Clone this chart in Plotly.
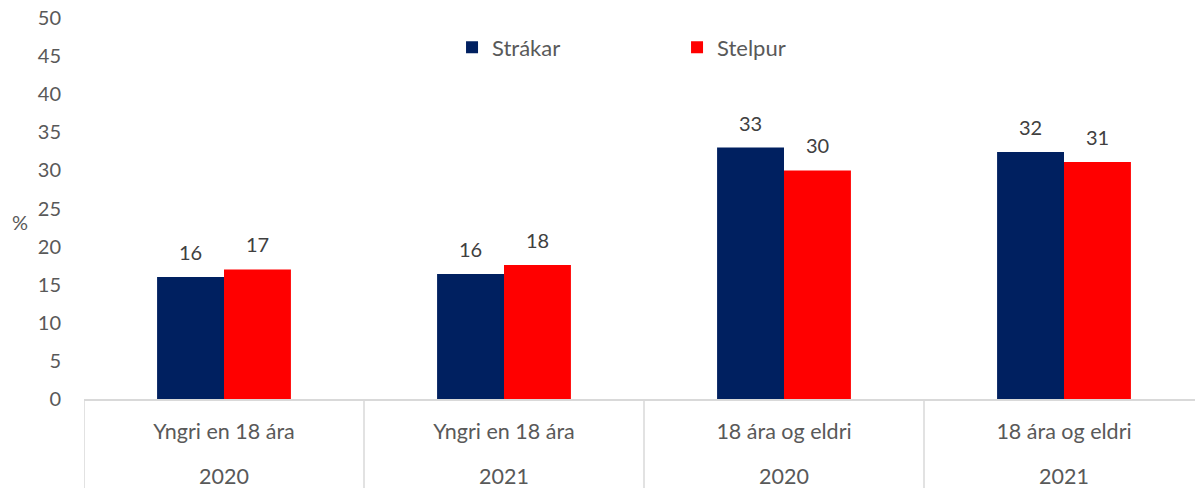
import plotly.graph_objects as go

groups = ["Yngri en 18 ára", "Yngri en 18 ára", "18 ára og eldri", "18 ára og eldri"]
years = ["2020", "2021", "2020", "2021"]
strakar = [16.0, 16.4, 33.0, 32.4]
stelpur = [17.0, 17.6, 30.0, 31.1]
series_names = ["Strákar", "Stelpur"]
colors = ["#002060", "#FF0000"]
y_ticks = list(range(0, 51, 5))

FONT = "Lato, 'Open Sans', sans-serif"
TXT = "#595959"
FS = 20
FS_CAT = 21.5

x_keys = [f"{g} {y}" for g, y in zip(groups, years)]

fig = go.Figure()
for name, vals, col in zip(series_names, [strakar, stelpur], colors):
    fig.add_trace(go.Bar(
        x=x_keys, y=vals, name=name, marker_color=col,
        marker_line_width=0,
    ))

# data labels
bargap = 0.522
half = (1 - bargap) / 4
for s_idx, vals in enumerate([strakar, stelpur]):
    off = -half if s_idx == 0 else half
    for i, v in enumerate(vals):
        fig.add_annotation(
            x=i + off, y=v, xref="x", yref="y", text=f"{v:.0f}",
            showarrow=False, yanchor="bottom", yshift=11,
            font=dict(family=FONT, size=FS, color="#404040"),
        )

# second row of category labels (years)
for i, yr in enumerate(years):
    fig.add_annotation(
        x=i, y=-0.202, xref="x", yref="paper", text=yr, showarrow=False,
        yanchor="middle", font=dict(family=FONT, size=FS_CAT, color=TXT),
    )

# category dividers
for i in range(len(x_keys) + 1):
    fig.add_shape(
        type="line", xref="x", yref="paper", x0=i - 0.5, x1=i - 0.5,
        y0=0, y1=-0.27, line=dict(color="#D9D9D9", width=1.5),
    )

fig.add_annotation(
    x=0, y=0.4646, xref="paper", yref="paper", xshift=-64, text="%",
    showarrow=False, xanchor="center", yanchor="middle",
    font=dict(family=FONT, size=FS, color=TXT),
)

fig.update_layout(
    width=1203, height=488,
    margin=dict(l=76, r=7, t=10, b=97),
    paper_bgcolor="white", plot_bgcolor="white",
    barmode="group", bargap=bargap, bargroupgap=0,
    font=dict(family=FONT, size=FS, color=TXT),
    showlegend=True,
    legend=dict(
        orientation="h", x=0.3286, y=0.9226, xanchor="left", yanchor="middle",
        entrywidth=180, entrywidthmode="pixels",
        font=dict(family=FONT, size=22, color=TXT),
        bgcolor="rgba(0,0,0,0)",
    ),
)
fig.update_yaxes(
    range=[0, 50], tickvals=y_ticks, showgrid=False, zeroline=False,
    showline=False, ticks="outside", ticklen=18, tickcolor="rgba(0,0,0,0)",
    tickfont=dict(family=FONT, size=FS, color=TXT), automargin=False,
    ticklabeloverflow="allow",
)
fig.update_xaxes(
    type="category", range=[-0.5, len(x_keys) - 0.5],
    tickvals=x_keys, ticktext=groups,
    showline=True, linecolor="#D9D9D9", linewidth=1.5,
    ticks="outside", ticklen=12, tickcolor="rgba(0,0,0,0)",
    tickfont=dict(family=FONT, size=FS_CAT, color=TXT),
    showgrid=False, automargin=False, ticklabeloverflow="allow",
)

fig.write_html("out.html")
